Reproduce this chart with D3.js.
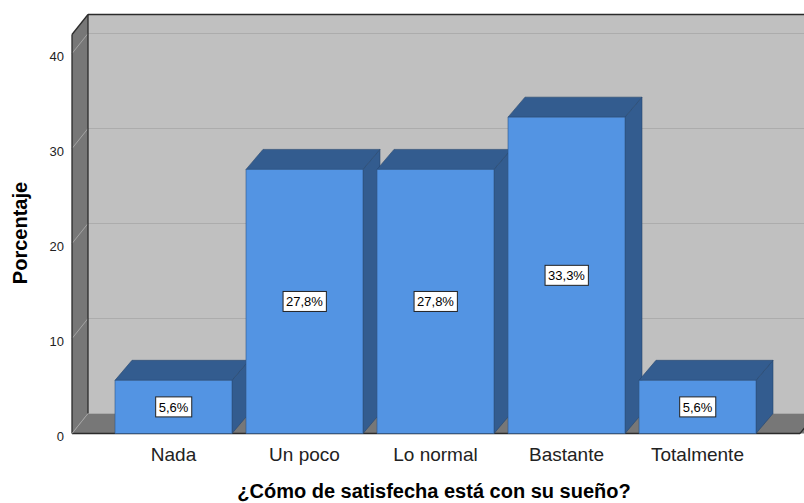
<!DOCTYPE html>
<html>
<head>
<meta charset="utf-8">
<script src="https://cdn.jsdelivr.net/npm/d3@7"></script>
<style>
  body { margin: 0; background: #fff; }
  svg { display: block; font-family: "Liberation Sans", Arial, sans-serif; }
</style>
</head>
<body>
<svg id="chart"></svg>
<script>
// data
const categories = ['Nada', 'Un poco', 'Lo normal', 'Bastante', 'Totalmente'];
const percentages = [5.6, 27.8, 27.8, 33.3, 5.6];
const yTicks = [0, 10, 20, 30, 40];

const config = {
    width: 804,
    height: 503,
    depthX: 16,
    depthY: -20,
    barDX: 17,
    barDY: -20,
};

const svg = d3.select('#chart')
    .attr('width', config.width)
    .attr('height', config.height);

const y = d3.scaleLinear().domain([0, 42]).range([433.5, 34.5]);
const x = d3.scaleBand().domain(categories).range([115, 756]).paddingInner(0.107).paddingOuter(0);

const dx = config.depthX, dy = config.depthY;
const left = 72, right = 800;
const y0 = y(0), yTop = y(42);

const frame = svg.append('g');

// back wall
frame.append('rect')
    .attr('x', left + dx).attr('y', yTop + dy)
    .attr('width', right - left + 20).attr('height', y0 - yTop)
    .attr('fill', '#c0c0c0');

// left wall
frame.append('polygon')
    .attr('points', [[left, yTop], [left + dx, yTop + dy], [left + dx, y0 + dy], [left, y0]].join(' '))
    .attr('fill', '#777777');

// floor
frame.append('polygon')
    .attr('points', [[left, y0], [left + dx, y0 + dy], [right + dx + 20, y0 + dy], [right + 20, y0]].join(' '))
    .attr('fill', '#777777');

// grid lines
const grid = yTicks.filter(d => d > 0);
frame.selectAll('.gback').data(grid).enter().append('line')
    .attr('x1', left + dx).attr('x2', config.width)
    .attr('y1', d => y(d) + dy).attr('y2', d => y(d) + dy)
    .attr('stroke', '#acacac').attr('stroke-width', 1);
frame.selectAll('.gside').data(grid).enter().append('line')
    .attr('x1', left).attr('x2', left + dx)
    .attr('y1', d => y(d)).attr('y2', d => y(d) + dy)
    .attr('stroke', '#a4a4a4').attr('stroke-width', 1);

// frame edges
const edge = '#2b2b2b';
const edges = [
    [[left, yTop], [left, y0]],
    [[left + dx, yTop + dy], [left + dx, y0 + dy]],
    [[left, yTop], [left + dx, yTop + dy]],
    [[left + dx, yTop + dy], [config.width, yTop + dy]],
    [[left, y0], [right, y0]],
    [[right, y0], [right + dx, y0 + dy]],
];
frame.selectAll('.edge').data(edges).enter().append('line')
    .attr('x1', d => d[0][0]).attr('y1', d => d[0][1])
    .attr('x2', d => d[1][0]).attr('y2', d => d[1][1])
    .attr('stroke', edge).attr('stroke-width', 1.3);
frame.append('line')
    .attr('x1', left).attr('y1', y0).attr('x2', left + dx).attr('y2', y0 + dy)
    .attr('stroke', '#a4a4a4').attr('stroke-width', 1);

// bars
const bdx = config.barDX, bdy = config.barDY;
const bw = x.bandwidth();
const bars = svg.selectAll('.bar')
    .data(categories.map((c, i) => ({ cat: c, value: percentages[i] })))
    .enter().append('g');

bars.append('polygon')
    .attr('points', d => {
        const x0 = x(d.cat), yt = y(d.value);
        return [[x0 + bw, yt], [x0 + bw + bdx, yt + bdy], [x0 + bw + bdx, y0 + bdy], [x0 + bw, y0]].join(' ');
    })
    .attr('fill', '#335c8f').attr('stroke', '#27466d').attr('stroke-width', 0.6);

bars.append('polygon')
    .attr('points', d => {
        const x0 = x(d.cat), yt = y(d.value);
        return [[x0, yt], [x0 + bdx, yt + bdy], [x0 + bw + bdx, yt + bdy], [x0 + bw, yt]].join(' ');
    })
    .attr('fill', '#335c8f').attr('stroke', '#27466d').attr('stroke-width', 0.6);

bars.append('rect')
    .attr('x', d => x(d.cat)).attr('y', d => y(d.value))
    .attr('width', bw).attr('height', d => y0 - y(d.value))
    .attr('fill', '#5394e3').attr('stroke', '#2f5685').attr('stroke-width', 0.6);

// value labels
bars.each(function (d) {
    const g = d3.select(this);
    const cx = x(d.cat) + bw / 2, cy = (y(d.value) + y0) / 2;
    const t = g.append('text')
        .attr('x', cx).attr('y', cy)
        .attr('dy', '0.36em')
        .attr('text-anchor', 'middle')
        .attr('font-size', 13)
        .attr('fill', '#000')
        .text(d.value.toFixed(1).replace('.', ',') + '%');
    const bb = t.node().getBBox();
    g.insert('rect', 'text')
        .attr('x', bb.x - 3).attr('y', cy - 10)
        .attr('width', bb.width + 6).attr('height', 20)
        .attr('fill', '#fff').attr('stroke', '#222').attr('stroke-width', 1);
});

// y tick labels
svg.selectAll('.ytick').data(yTicks).enter().append('text')
    .attr('x', 64).attr('y', d => y(d))
    .attr('dy', '0.6em')
    .attr('text-anchor', 'end')
    .attr('font-size', 13)
    .attr('fill', '#222')
    .text(d => d);

// category labels
svg.selectAll('.xtick').data(categories).enter().append('text')
    .attr('x', d => x(d) + bw / 2).attr('y', 461)
    .attr('text-anchor', 'middle')
    .attr('font-size', 19)
    .attr('fill', '#222')
    .text(d => d);

// axis titles
svg.append('text')
    .attr('x', 434).attr('y', 498)
    .attr('text-anchor', 'middle')
    .attr('font-size', 20).attr('font-weight', 'bold')
    .attr('fill', '#000')
    .text('¿Cómo de satisfecha está con su sueño?');

svg.append('text')
    .attr('transform', 'translate(27,233) rotate(-90)')
    .attr('text-anchor', 'middle')
    .attr('font-size', 20).attr('font-weight', 'bold')
    .attr('fill', '#000')
    .text('Porcentaje');
</script>
</body>
</html>
